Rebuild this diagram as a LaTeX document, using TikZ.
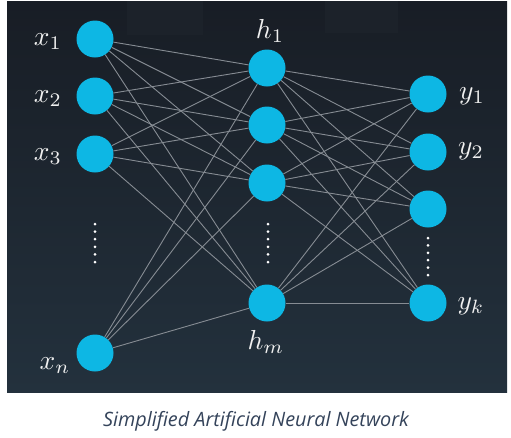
\documentclass[tikz,border=0pt]{standalone}
\usepackage{fontspec}
\newfontfamily\capfont{Open Sans}
\definecolor{bgtop}{HTML}{181D25}
\definecolor{bgbot}{HTML}{23313D}
\definecolor{patchc}{HTML}{1C222A}
\definecolor{neuronc}{HTML}{0DB7E4}
\definecolor{edgec}{HTML}{868C93}
\definecolor{captc}{HTML}{34435A}
\definecolor{labc}{HTML}{F0F0F0}
\tikzset{
  neuron/.style={circle, fill=neuronc, minimum size=37pt, inner sep=0pt},
  edge/.style={draw=edgec, line width=0.9pt},
  lab/.style={text=labc, inner sep=0pt},
  vdot/.style={fill=white},
}
\newcommand{\biglab}[1]{\scalebox{2.75}{$#1$}}
\begin{document}
\begin{tikzpicture}[x=1pt,y=-1pt]
\useasboundingbox (0,0) rectangle (511,437);
\shade[top color=bgtop, bottom color=bgbot] (7,1) rectangle (507,392);
\fill[patchc] (127,1) rectangle (203,35);
\fill[patchc] (325,1) rectangle (398,33);
% input layer
\node[neuron] (x1) at (95,39) {};
\node[neuron] (x2) at (95,96) {};
\node[neuron] (x3) at (95,154) {};
\node[neuron] (xn) at (95,353) {};
% hidden layer
\node[neuron] (h1) at (267,68) {};
\node[neuron] (h2) at (267,125) {};
\node[neuron] (h3) at (267,183) {};
\node[neuron] (hm) at (267,303) {};
% output layer
\node[neuron] (y1) at (428,94) {};
\node[neuron] (y2) at (428,152) {};
\node[neuron] (y3) at (428,209) {};
\node[neuron] (yk) at (428,303) {};
% connections
\foreach \a in {x1,x2,x3,xn}
  \foreach \b in {h1,h2,h3,hm}
    \draw[edge] (\a) -- (\b);
\foreach \a in {h1,h2,h3,hm}
  \foreach \b in {y1,y2,y3,yk}
    \draw[edge] (\a) -- (\b);
% labels
\node[lab] (lx1) at (48,42) {\biglab{x_1}};
\node[lab] (lx2) at (48,99) {\biglab{x_2}};
\node[lab] (lx3) at (48,157) {\biglab{x_3}};
\node[lab] (lxn) at (55,366) {\biglab{x_n}};
\node[lab] (lh1) at (270,31) {\biglab{h_1}};
\node[lab] (lhm) at (266,342) {\biglab{h_m}};
\node[lab] (ly1) at (472,96) {\biglab{y_1}};
\node[lab] (ly2) at (471,151) {\biglab{y_2}};
\node[lab] (lyk) at (471,306) {\biglab{y_k}};
% ellipsis dots
\foreach \i in {0,...,5} {
  \fill[vdot] (95,224+\i*7.6) circle (1.5);
  \fill[vdot] (268,224+\i*7.6) circle (1.5);
  \fill[vdot] (428,238+\i*7.4) circle (1.5);
}
% caption
\node[text=captc, font=\capfont\itshape\fontsize{19.8}{24}\selectfont, inner sep=0pt] (cap) at (256,421) {Simplified Artificial Neural Network};
\end{tikzpicture}
\end{document}
